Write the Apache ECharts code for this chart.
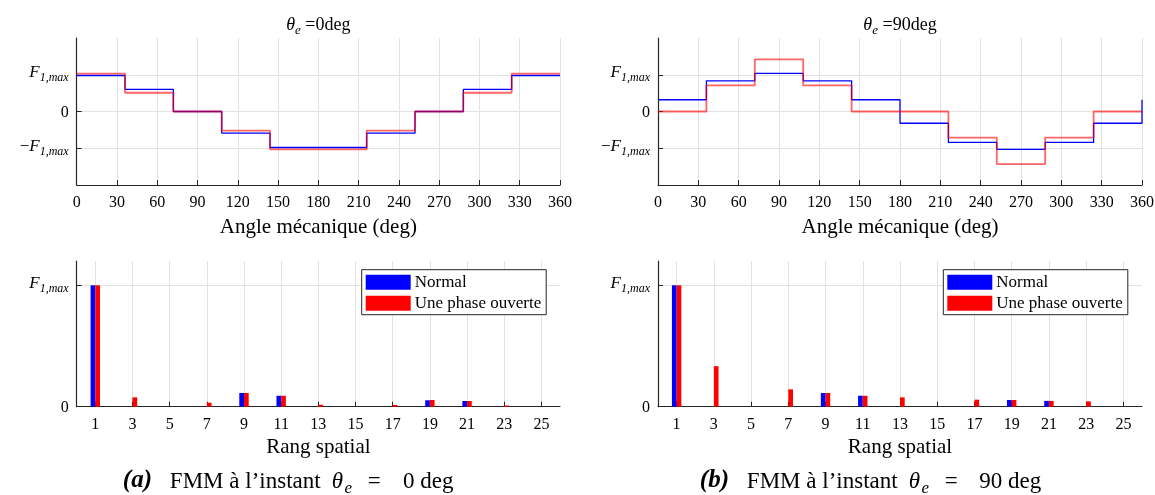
<!DOCTYPE html>
<html><head><meta charset="utf-8">
<script src="https://cdn.jsdelivr.net/npm/echarts@6/dist/echarts.min.js"></script>
<style>html,body{margin:0;padding:0;background:#fff}#c{width:1155px;height:495px}</style>
</head><body><div id="c"></div>
<script>
// ---- data ----
const angles = [0, 36, 72, 108, 144, 180, 216, 252, 288, 324, 360];
const normal0 = [0.98, 0.60, 0, -0.59, -0.98, -0.98, -0.59, 0, 0.60, 0.98, 0.98];
const open0 = [1.03, 0.51, 0, -0.52, -1.03, -1.03, -0.52, 0, 0.51, 1.03, 1.03];
const normal90 = [0.32, 0.835, 1.035, 0.835, 0.32, -0.32, -0.84, -1.03, -0.84, -0.32, 0.32];
const open90 = [0, 0.71, 1.42, 0.71, 0, 0, -0.71, -1.43, -0.71, 0, 0];

const ranks = [1, 3, 5, 7, 9, 11, 13, 15, 17, 19, 21, 23, 25];
const specNormal0 = [1.0, 0, 0, 0, 0.113, 0.09, 0, 0, 0, 0.053, 0.047, 0, 0];
const specOpen0 = [1.0, 0.077, 0, 0.033, 0.113, 0.09, 0.016, 0, 0.014, 0.055, 0.047, 0.01, 0];
const specNormal90 = [1.0, 0, 0, 0, 0.113, 0.09, 0, 0, 0, 0.055, 0.048, 0, 0];
const specOpen90 = [1.0, 0.334, 0, 0.143, 0.113, 0.09, 0.077, 0, 0.058, 0.055, 0.048, 0.044, 0];

const fluxTickValues = [-1, 0, 1];
const specTickValues = [0, 1];
const seriesNames = ['Normal', 'Une phase ouverte'];
const topTitles = ['0deg', '90deg'];
const captions = [['(a)', '0 deg'], ['(b)', '90 deg']];
const xNameTop = 'Angle mécanique (deg)';
const xNameBottom = 'Rang spatial';

// ---- styles ----
const SERIF = "'Liberation Serif','Times New Roman',serif";
const AX = '#262626';
const GRIDC = '#e2e2e2';
const BLUE = '#0000ff';
const RED = '#ff0000';

function rich(sz, pad) {
  const sub = Math.round(sz * 0.72);
  const base = {fontFamily: SERIF, color: '#000', fontWeight: 'normal', verticalAlign: 'bottom'};
  return {
    i: Object.assign({}, base, {fontStyle: 'italic', fontSize: sz, padding: [0, 0, pad, 0], lineHeight: sz + 2}),
    s: Object.assign({}, base, {fontStyle: 'italic', fontSize: sub, lineHeight: sub + 2}),
    n: Object.assign({}, base, {fontSize: sz, padding: [0, 0, pad, 0], lineHeight: sz + 2}),
    z: Object.assign({}, base, {fontSize: sz - 1, lineHeight: sz + 2}),
    bi: Object.assign({}, base, {fontStyle: 'italic', fontWeight: 'bold', fontSize: sz + 2, padding: [0, 0, pad, 0], lineHeight: sz + 2, width: 47, align: 'left'}),
    w1: Object.assign({}, base, {fontSize: sz, padding: [0, 0, pad, 0], lineHeight: sz + 2, width: 162, align: 'left'}),
    se: Object.assign({}, base, {fontStyle: 'italic', fontSize: sub, lineHeight: sub + 2, width: 10, align: 'left'}),
    eq: Object.assign({}, base, {fontSize: sz, padding: [0, 0, pad, 0], lineHeight: sz + 2, width: 42, align: 'center'}),
    t0: Object.assign({}, base, {fontSize: sz, padding: [0, 0, pad, 0], lineHeight: sz + 2, width: 66, align: 'left'}),
    t1: Object.assign({}, base, {fontSize: sz, padding: [0, 0, pad, 0], lineHeight: sz + 2, width: 76, align: 'left'})
  };
}
function fLabel(v) {
  if (v === 1) return '{i|F}{s|1,max}';
  if (v === -1) return '{n|−}{i|F}{s|1,max}';
  return '{z|0}';
}

const plots = [
  {left: 76.7, width: 483.3},
  {left: 658, width: 484}
];
const grids = [];
plots.forEach(p => grids.push({left: p.left, width: p.width, top: 38, height: 147, containLabel: false, outerBoundsMode: 'none'}));
plots.forEach(p => grids.push({left: p.left, width: p.width, top: 261, height: 145.7, containLabel: false, outerBoundsMode: 'none'}));

const axisLineStyle = {show: true, onZero: false, lineStyle: {color: AX, width: 1.2}};
const tickStyle = {show: true, inside: true, length: 5, lineStyle: {color: AX, width: 1}};
const splitStyle = {show: true, lineStyle: {color: GRIDC, width: 1}};

const xAxes = [], yAxes = [];
for (let k = 0; k < 2; k++) {
  xAxes.push({
    type: 'value', gridIndex: k, min: 0, max: 360, interval: 30,
    axisLine: axisLineStyle, axisTick: tickStyle, splitLine: splitStyle,
    axisLabel: {fontFamily: SERIF, fontSize: 16, color: '#000', margin: 10},
    name: xNameTop, nameLocation: 'middle', nameGap: 32,
    nameTextStyle: {fontFamily: SERIF, fontSize: 21, color: '#000'}
  });
  yAxes.push({
    type: 'value', gridIndex: k, min: -2, max: 2,
    axisLine: axisLineStyle,
    axisTick: Object.assign({}, tickStyle, {customValues: fluxTickValues}),
    splitLine: splitStyle,
    axisLabel: {customValues: fluxTickValues, formatter: fLabel, margin: 8, rich: rich(17, 3)}
  });
}
for (let k = 0; k < 2; k++) {
  xAxes.push({
    type: 'value', gridIndex: 2 + k, min: 0, max: 26,
    axisLine: axisLineStyle,
    axisTick: Object.assign({}, tickStyle, {customValues: ranks}),
    splitLine: splitStyle,
    axisLabel: {customValues: ranks, fontFamily: SERIF, fontSize: 16, color: '#000', margin: 10},
    name: xNameBottom, nameLocation: 'middle', nameGap: 30,
    nameTextStyle: {fontFamily: SERIF, fontSize: 21, color: '#000'}
  });
  yAxes.push({
    type: 'value', gridIndex: 2 + k, min: 0, max: 1.2,
    axisLine: axisLineStyle,
    axisTick: Object.assign({}, tickStyle, {customValues: specTickValues}),
    splitLine: splitStyle,
    axisLabel: {customValues: specTickValues, formatter: fLabel, margin: 8, rich: rich(17, 3)}
  });
}

function zip(xs, ys) { return xs.map((x, i) => [x, ys[i]]); }
function stepLine(idx, ys, color, width, opacity, z) {
  return {
    type: 'line', xAxisIndex: idx, yAxisIndex: idx, data: zip(angles, ys), step: 'end',
    symbol: 'none', silent: true, z: z,
    lineStyle: {color: color, width: width, opacity: opacity}
  };
}
function bars(idx, name, ys, color) {
  return {
    type: 'bar', name: name, xAxisIndex: idx, yAxisIndex: idx, data: zip(ranks, ys),
    barWidth: 4.7, barGap: '0%', itemStyle: {color: color}, silent: true
  };
}

const series = [
  stepLine(0, normal0, BLUE, 1.3, 1, 2),
  stepLine(0, open0, RED, 1.8, 0.6, 3),
  stepLine(1, normal90, BLUE, 1.3, 1, 2),
  stepLine(1, open90, RED, 1.8, 0.6, 3),
  bars(2, seriesNames[0], specNormal0, BLUE),
  bars(2, seriesNames[1], specOpen0, RED),
  bars(3, seriesNames[0], specNormal90, BLUE),
  bars(3, seriesNames[1], specOpen90, RED)
];

const legendLefts = [361.7, 943.3];
const legends = legendLefts.map(l => ({
  left: l, top: 269.7, orient: 'vertical', itemWidth: 45, itemHeight: 15, itemGap: 4,
  padding: [4, 5, 3, 4], borderColor: AX, borderWidth: 1, backgroundColor: '#fff',
  selectedMode: false,
  textStyle: {fontFamily: SERIF, fontSize: 17, color: '#000', lineHeight: 15, padding: [0, 0, 0, -1]},
  data: seriesNames.map(n => ({name: n, icon: 'rect'}))
}));

const titles = [];
plots.forEach((p, k) => titles.push({
  text: '{i|θ}{s|e}{n| =' + topTitles[k] + '}',
  left: p.left + p.width / 2, top: 17, textAlign: 'center', padding: 0,
  textStyle: {fontWeight: 'normal', rich: rich(18, 3)}
}));
const capCenters = [292, 874];
captions.forEach((c, k) => titles.push({
  text: '{bi|' + c[0] + '}{w1|FMM à l’instant}{i|θ}{se|e}{eq|=}{' + (k === 0 ? 't0' : 't1') + '|' + c[1] + '}',
  left: capCenters[k], top: 472, textAlign: 'center', padding: 0,
  textStyle: {fontWeight: 'normal', rich: rich(23, 4)}
}));

const chart = echarts.init(document.getElementById('c'), null, {renderer: 'canvas'});
chart.setOption({
  animation: false,
  backgroundColor: '#fff',
  title: titles,
  legend: legends,
  grid: grids,
  xAxis: xAxes,
  yAxis: yAxes,
  series: series
});
</script>
</body></html>
